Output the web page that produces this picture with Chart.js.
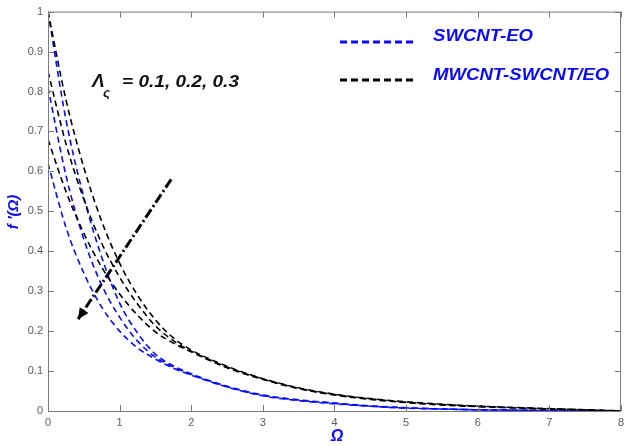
<!DOCTYPE html>
<html lang="en">
<head>
    <title>Velocity profile</title>
    <script src="https://cdn.jsdelivr.net/npm/chart.js"></script>
    <style>
        html, body { margin: 0; padding: 0; background: #fff; }
        #wrap { width: 629px; height: 446px; }
    </style>
</head>
<body>
    <div id="wrap"><canvas id="myChart"></canvas></div>

    <script>
        // data
        const xs = [0, 0.25, 0.5, 0.75, 1, 1.25, 1.5, 1.75, 2, 2.5, 3, 3.5, 4, 4.5, 5, 5.5, 6, 6.5, 7, 7.5, 8];
        const lambdas = [0.1, 0.2, 0.3];
        const seriesNames = ['SWCNT-EO', 'MWCNT-SWCNT/EO'];

        const swcnt1 = [1.0, 0.73, 0.535, 0.385, 0.27, 0.195, 0.142, 0.113, 0.093, 0.062, 0.040, 0.028, 0.020, 0.013, 0.008, 0.005, 0.003, 0.002, 0.001, 0.0005, 0];
        const swcnt2 = [0.81, 0.59, 0.43, 0.315, 0.235, 0.175, 0.135, 0.11, 0.091, 0.061, 0.039, 0.027, 0.019, 0.012, 0.008, 0.005, 0.003, 0.002, 0.001, 0.0005, 0];
        const swcnt3 = [0.62, 0.46, 0.345, 0.26, 0.20, 0.158, 0.13, 0.107, 0.09, 0.06, 0.038, 0.026, 0.018, 0.012, 0.007, 0.005, 0.003, 0.002, 0.001, 0.0005, 0];

        const hybrid1 = [1.0, 0.78, 0.61, 0.475, 0.37, 0.29, 0.228, 0.183, 0.153, 0.112, 0.081, 0.058, 0.042, 0.031, 0.023, 0.017, 0.012, 0.009, 0.006, 0.003, 0];
        const hybrid2 = [0.85, 0.67, 0.53, 0.42, 0.335, 0.268, 0.213, 0.176, 0.15, 0.11, 0.08, 0.057, 0.041, 0.030, 0.022, 0.016, 0.012, 0.008, 0.005, 0.003, 0];
        const hybrid3 = [0.68, 0.55, 0.445, 0.36, 0.293, 0.24, 0.198, 0.17, 0.148, 0.108, 0.079, 0.056, 0.040, 0.029, 0.021, 0.015, 0.011, 0.008, 0.005, 0.003, 0];

        // arrow across the curves (data units)
        const arrowX = [1.72, 0.42];
        const arrowY = [0.58, 0.23];

        const BLUE = '#0a0aff';
        const FONT = '"Liberation Sans", Arial, sans-serif';

        const pts = ys => xs.map((x, i) => ({ x: x, y: ys[i] }));

        function curve(ys, color) {
            return {
                data: pts(ys),
                borderColor: color,
                borderWidth: 1.6,
                borderDash: [6, 4],
                pointRadius: 0,
                cubicInterpolationMode: 'monotone',
                fill: false
            };
        }

        const datasets = [
            curve(hybrid1, '#000'), curve(hybrid2, '#000'), curve(hybrid3, '#000'),
            curve(swcnt1, BLUE), curve(swcnt2, BLUE), curve(swcnt3, BLUE),
            {
                data: arrowX.map((x, i) => ({ x: x, y: arrowY[i] })),
                borderColor: '#000',
                borderWidth: 3,
                borderDash: [10, 3, 2, 3],
                pointRadius: 0,
                fill: false
            }
        ];

        function stretchText(ctx, txt, x, y, sx) {
            ctx.save();
            ctx.translate(x, y);
            ctx.scale(sx, 1);
            ctx.fillText(txt, 0, 0);
            ctx.restore();
        }

        const decor = {
            id: 'decor',
            afterDatasetsDraw(chart) {
                const ctx = chart.ctx;
                const a = chart.chartArea;
                const xS = chart.scales.x, yS = chart.scales.y;
                ctx.save();

                // box + inward ticks
                ctx.strokeStyle = '#7a7a7a';
                ctx.lineWidth = 1;
                ctx.strokeRect(a.left + 0.5, a.top + 0.5, a.right - a.left - 1, a.bottom - a.top);
                ctx.beginPath();
                xS.ticks.forEach(t => {
                    const p = Math.round(xS.getPixelForValue(t.value)) + 0.5;
                    ctx.moveTo(p, a.bottom); ctx.lineTo(p, a.bottom - 6);
                    ctx.moveTo(p, a.top); ctx.lineTo(p, a.top + 6);
                });
                yS.ticks.forEach(t => {
                    const p = Math.round(yS.getPixelForValue(t.value)) + 0.5;
                    ctx.moveTo(a.left, p); ctx.lineTo(a.left + 6, p);
                    ctx.moveTo(a.right, p); ctx.lineTo(a.right - 6, p);
                });
                ctx.stroke();

                // arrowhead
                const tx = xS.getPixelForValue(arrowX[1]), ty = yS.getPixelForValue(arrowY[1]);
                const fx = xS.getPixelForValue(arrowX[0]), fy = yS.getPixelForValue(arrowY[0]);
                const ang = Math.atan2(ty - fy, tx - fx);
                ctx.fillStyle = '#000';
                ctx.beginPath();
                ctx.moveTo(tx, ty);
                ctx.lineTo(tx - 12 * Math.cos(ang - 0.45), ty - 12 * Math.sin(ang - 0.45));
                ctx.lineTo(tx - 12 * Math.cos(ang + 0.45), ty - 12 * Math.sin(ang + 0.45));
                ctx.closePath();
                ctx.fill();

                // parameter label
                ctx.fillStyle = '#111';
                ctx.textBaseline = 'alphabetic';
                ctx.textAlign = 'left';
                ctx.font = 'italic bold 18px ' + FONT;
                stretchText(ctx, '\u039B', 92, 87, 1.05);
                ctx.font = 'italic bold 13px ' + FONT;
                ctx.fillText('\u03C2', 103, 97);
                ctx.font = 'italic bold 17px ' + FONT;
                stretchText(ctx, '= ' + lambdas.join(', '), 122, 87, 1.12);

                // legend
                const legY = [42, 80];
                const legC = [BLUE, '#000'];
                legY.forEach((y, i) => {
                    ctx.strokeStyle = legC[i];
                    ctx.lineWidth = 3;
                    ctx.setLineDash([7, 4]);
                    ctx.beginPath();
                    ctx.moveTo(340, y); ctx.lineTo(416, y);
                    ctx.stroke();
                    ctx.setLineDash([]);
                    ctx.fillStyle = BLUE;
                    ctx.font = 'italic bold 16px ' + FONT;
                    ctx.textBaseline = 'middle';
                    stretchText(ctx, seriesNames[i], 433, y - 5 + i * 0.5, 1.16);
                });

                // axis titles
                ctx.fillStyle = BLUE;
                ctx.font = 'italic bold 16px ' + FONT;
                ctx.textAlign = 'center';
                ctx.textBaseline = 'middle';
                ctx.fillText('\u03A9', 337, 437);
                ctx.save();
                ctx.translate(14, 212);
                ctx.rotate(-Math.PI / 2);
                ctx.font = 'italic bold 15px ' + FONT;
                ctx.fillText('f \u2032(\u03A9)', 0, 0);
                ctx.restore();

                ctx.restore();
            }
        };

        const ctx = document.getElementById('myChart').getContext('2d');
        new Chart(ctx, {
            type: 'line',
            data: { datasets: datasets },
            options: {
                responsive: true,
                maintainAspectRatio: false,
                animation: false,
                layout: { padding: { top: 7, right: 5, left: 0, bottom: 0 } },
                plugins: { legend: { display: false }, tooltip: { enabled: false } },
                scales: {
                    x: {
                        type: 'linear',
                        min: 0, max: 8,
                        grid: { display: false, drawTicks: false },
                        border: { display: false },
                        ticks: { stepSize: 1, padding: 5, color: '#5a5a5a', font: { family: FONT, size: 11 } },
                        afterFit: s => { s.height = 35; }
                    },
                    y: {
                        min: 0, max: 1,
                        grid: { display: false, drawTicks: false },
                        border: { display: false },
                        ticks: {
                            stepSize: 0.1, padding: 5, color: '#5a5a5a', font: { family: FONT, size: 11 },
                            callback: v => String(Number(v.toFixed(1)))
                        },
                        afterFit: s => { s.width = 48; }
                    }
                }
            },
            plugins: [decor]
        });
    </script>
</body>
</html>
